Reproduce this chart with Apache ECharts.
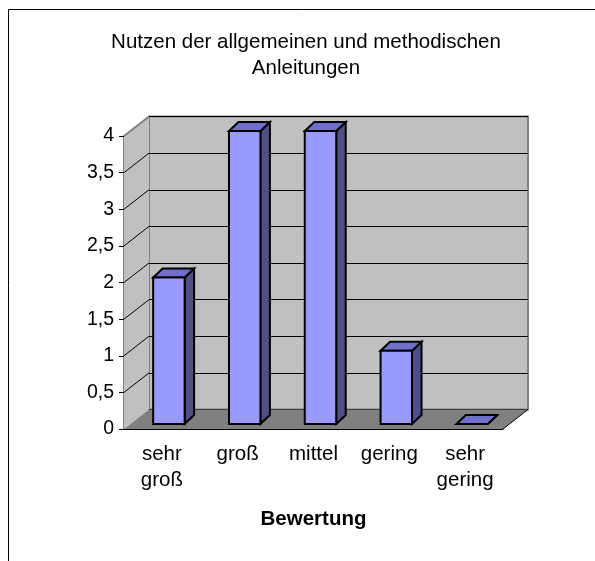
<!DOCTYPE html>
<html>
<head>
<meta charset="utf-8">
<script src="https://cdn.jsdelivr.net/npm/echarts@6/dist/echarts.min.js"></script>
<style>
  html, body { margin: 0; padding: 0; background: #fff; }
  #chart { width: 595px; height: 561px; }
</style>
</head>
<body>
<div id="chart"></div>
<script>
// Daten
const categories = ['sehr\ngroß', 'groß', 'mittel', 'gering', 'sehr\ngering'];
const values = [2, 4, 4, 1, 0];
const yTicks = [0, 0.5, 1, 1.5, 2, 2.5, 3, 3.5, 4];
const titleText = 'Nutzen der allgemeinen und methodischen\nAnleitungen';
const axisName = 'Bewertung';

const FONT = '"Liberation Sans", Arial, sans-serif';
// Tiefe der 3D-Wand
const DEPTH_X = 25, DEPTH_Y = -19.5;

let chart = echarts.init(document.getElementById('chart'));

// Seitenwand, Boden und schraege Gitterlinien
function renderWalls(params, api) {
    let w = api.size([1, 0])[0];
    let p0 = api.coord([0, 0]);
    let p4 = api.coord([categories.length - 1, 0]);
    let xl = p0[0] - w / 2, xr = p4[0] + w / 2;
    let yb = p0[1], yt = api.coord([0, yTicks[yTicks.length - 1]])[1];
    let children = [];
    // Seitenwand
    children.push({
        type: 'polygon',
        shape: { points: [[xl, yb], [xl, yt], [xl + DEPTH_X, yt + DEPTH_Y], [xl + DEPTH_X, yb + DEPTH_Y]] },
        style: { fill: '#c0c0c0' }
    });
    // Boden
    children.push({
        type: 'polygon',
        shape: { points: [[xl, yb], [xr, yb], [xr + DEPTH_X, yb + DEPTH_Y], [xl + DEPTH_X, yb + DEPTH_Y]] },
        style: { fill: '#808080' }
    });
    yTicks.forEach(function (t) {
        let y = api.coord([0, t])[1];
        if (t === 0 || t === yTicks[yTicks.length - 1]) return;
        children.push({
            type: 'line',
            shape: { x1: xl, y1: y, x2: xl + DEPTH_X, y2: y + DEPTH_Y },
            style: { stroke: '#000', lineWidth: 1 }
        });
    });
    // obere Kante der Seitenwand
    children.push({
        type: 'line',
        shape: { x1: xl, y1: yt, x2: xl + DEPTH_X, y2: yt + DEPTH_Y },
        style: { stroke: '#808080', lineWidth: 2 }
    });
    // rechte Bodenkante
    children.push({
        type: 'line',
        shape: { x1: xr, y1: yb, x2: xr + DEPTH_X, y2: yb + DEPTH_Y },
        style: { stroke: '#000', lineWidth: 1 }
    });
    return { type: 'group', children: children };
}

// 3D-Saeule
function renderBar(params, api) {
    let idx = api.value(0), v = api.value(1);
    let base = api.coord([idx, 0]);
    let top = api.coord([idx, v]);
    let w = api.size([1, 0])[0];
    let bw = w * 0.415;
    let fx = 7, fy = -5;
    let dx = 9.5, dy = -9;
    let xl = base[0] + fx - bw / 2, xr = xl + bw;
    let yb = base[1] + fy, yt = top[1] + fy;
    let st = { stroke: '#000', lineWidth: 2, lineJoin: 'miter' };
    return {
        type: 'group',
        children: [
            {
                type: 'polygon',
                shape: { points: [[xr, yt], [xr + dx, yt + dy], [xr + dx, yb + dy], [xr, yb]] },
                style: Object.assign({ fill: '#4f4f85' }, st)
            },
            {
                type: 'polygon',
                shape: { points: [[xl, yt], [xr, yt], [xr + dx, yt + dy], [xl + dx, yt + dy]] },
                style: Object.assign({ fill: '#7070cc' }, st)
            },
            {
                type: 'rect',
                shape: { x: xl, y: yt, width: bw, height: yb - yt },
                style: Object.assign({ fill: '#9999ff' }, st)
            }
        ]
    };
}

let option = {
    animation: false,
    backgroundColor: '#fff',
    textStyle: { fontFamily: FONT },
    graphic: [
        {
            type: 'rect',
            shape: { x: 8.5, y: 9.5, width: 800, height: 800 },
            style: { fill: 'none', stroke: '#000', lineWidth: 1 },
            z: -10
        },
        {
            type: 'text',
            x: 306, y: 29,
            style: {
                text: titleText,
                textAlign: 'center',
                textVerticalAlign: 'top',
                font: '20.5px ' + FONT,
                lineHeight: 26,
                fill: '#000'
            }
        }
    ],
    grid: [
        { left: 124, right: 92, top: 136, bottom: 132 },
        {
            left: 149, right: 67, top: 116.5, bottom: 151.5,
            show: true, backgroundColor: '#c0c0c0', borderColor: '#808080', borderWidth: 2
        }
    ],
    xAxis: [
        {
            type: 'category',
            gridIndex: 0,
            data: categories,
            axisLine: { lineStyle: { color: '#000', width: 1 } },
            axisTick: { lineStyle: { color: '#000' }, length: 6 },
            axisLabel: { color: '#000', fontSize: 20.5, lineHeight: 26, margin: 12, fontFamily: FONT },
            name: axisName,
            nameLocation: 'middle',
            nameGap: 80,
            nameTextStyle: { color: '#000', fontSize: 20.5, fontWeight: 'bold', fontFamily: FONT }
        },
        { type: 'value', gridIndex: 1, show: false, min: 0, max: 1 }
    ],
    yAxis: [
        {
            type: 'value',
            gridIndex: 0,
            min: 0, max: 4, interval: 0.5,
            axisLine: { show: true, lineStyle: { color: '#808080', width: 2 } },
            axisTick: { show: true, length: 5, lineStyle: { color: '#000' } },
            splitLine: { show: false },
            axisLabel: {
                color: '#000', fontSize: 19.5, margin: 10, fontFamily: FONT,
                formatter: function (v) { return String(v).replace('.', ','); }
            }
        },
        {
            type: 'value',
            gridIndex: 1,
            min: 0, max: 4, interval: 0.5,
            axisLine: { show: false },
            axisTick: { show: false },
            axisLabel: { show: false },
            splitLine: { show: true, lineStyle: { color: '#000', width: 1 } }
        }
    ],
    series: [
        {
            type: 'custom',
            xAxisIndex: 0, yAxisIndex: 0,
            renderItem: renderWalls,
            data: [[0, 0]],
            z: 1,
            silent: true
        },
        {
            type: 'custom',
            xAxisIndex: 0, yAxisIndex: 0,
            renderItem: renderBar,
            data: values.map(function (v, i) { return [i, v]; }),
            z: 5
        }
    ]
};

chart.setOption(option);
</script>
</body>
</html>
